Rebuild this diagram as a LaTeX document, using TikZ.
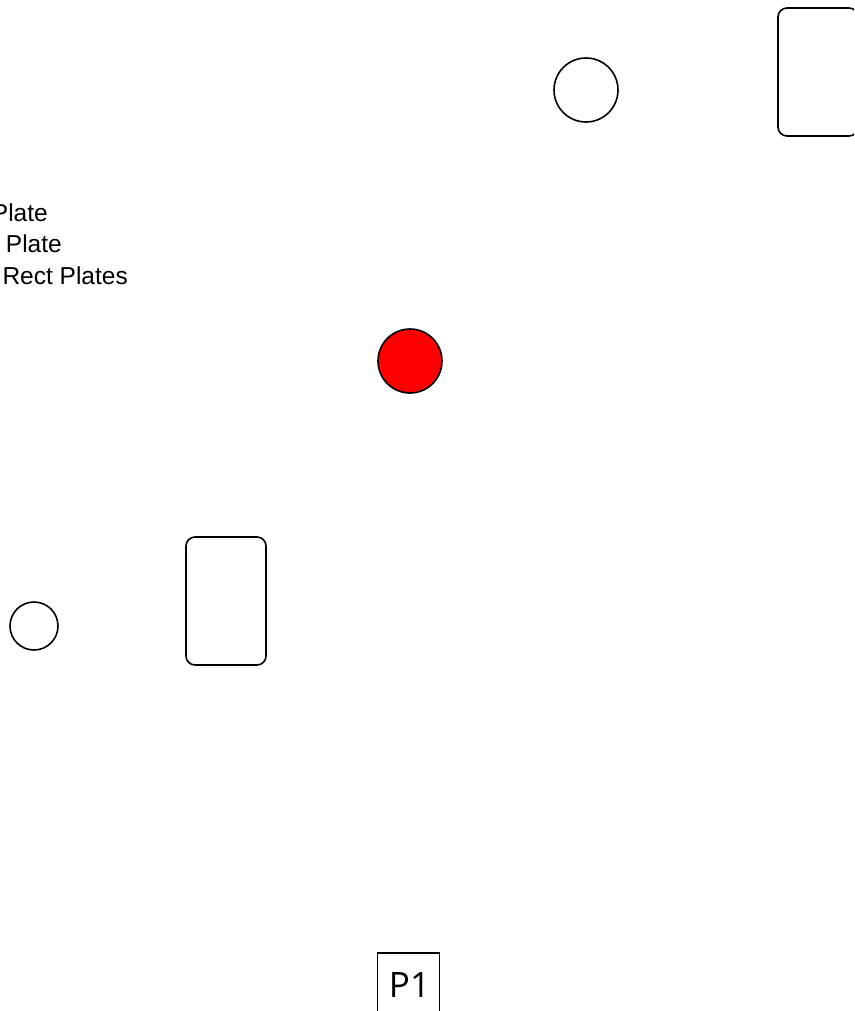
\documentclass[tikz,border=0pt]{standalone}
\usepackage{fontspec}
\setmainfont{Liberation Sans}
\newfontfamily\labelfont{Open Sans}
\begin{document}
\begin{tikzpicture}[x=1pt,y=-1pt,
plate/.style = {draw,black,line width=1.6pt,rounded corners=9pt,
        minimum width=80pt,minimum height=128pt,inner sep=0pt},
hole/.style = {draw,black,line width=1.6pt,circle,inner sep=0pt},
legend/.style = {anchor=base east,inner sep=0pt,
        font=\fontsize{24.5}{29}\selectfont}]

        \useasboundingbox (0,0) rectangle (854,1011);
        \clip (0,0) rectangle (854,1011);

        % plates
        \node[plate] (Plate_T) at ( 818, 72 ) {};
        \node[plate] (Plate_B) at ( 226, 601 ) {};

        % holes
        \node[hole,minimum size=64pt] (Hole_T) at ( 586, 90 ) {};
        \node[hole,minimum size=64pt,fill=red] (Hole_C) at ( 410, 361 ) {};
        \node[hole,minimum size=48pt] (Hole_L) at ( 34, 626 ) {};

        % legend
        \node[legend] (Leg_A) at ( 48, 221 ) {Plate};
        \node[legend] (Leg_B) at ( 62, 252 ) {Plate};
        \node[legend] (Leg_C) at ( 128, 284 ) {Rect Plates};

        % page tag
        \node[draw,black,line width=1.6pt,minimum width=62pt,minimum height=80pt,
              inner sep=0pt] (Tag) at ( 408.5, 993 ) {};
        \node[anchor=base,inner sep=0pt,font=\labelfont\fontsize{35}{40}\selectfont]
              (Tag_Text) at ( 409.5, 997 ) {P1};

\end{tikzpicture}
\end{document}
